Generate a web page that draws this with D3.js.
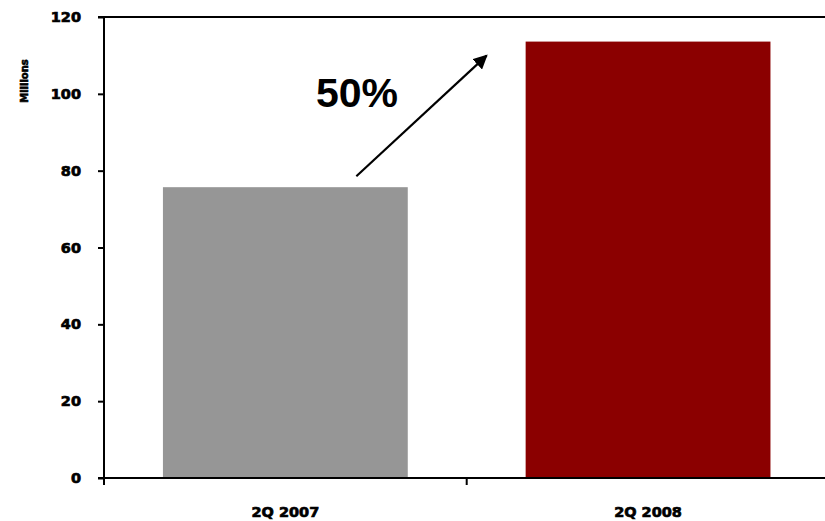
<!DOCTYPE html>
<html>
<head>
<meta charset="utf-8">
<script src="https://cdn.jsdelivr.net/npm/d3@7"></script>
<style>
  html, body { margin: 0; padding: 0; background: #fff; }
  svg { display: block; }
</style>
</head>
<body>
<svg id="chart" width="825" height="521"></svg>
<script>
// Quarterly totals, in millions
const categories = ["2Q 2007", "2Q 2008"];
const values = [75.7, 113.6];
const barColors = ["#969696", "#8b0000"];
const yTicks = [0, 20, 40, 60, 80, 100, 120];
const yAxisTitle = "Millions";

(function () {
  const svg = d3.select("#chart");
  const plotLeft = 104, plotRight = 829.4, plotTop = 17, plotBottom = 478;

  const x = d3.scaleBand()
    .domain(categories)
    .range([plotLeft, plotRight])
    .paddingInner(0.325)
    .paddingOuter(0.1625);

  const y = d3.scaleLinear().domain([0, 120]).range([plotBottom, plotTop]);

  // Bars
  svg.selectAll("rect.bar")
    .data(values)
    .join("rect")
    .attr("class", "bar")
    .attr("x", (d, i) => x(categories[i]))
    .attr("y", d => y(d))
    .attr("width", x.bandwidth())
    .attr("height", d => y(0) - y(d))
    .attr("fill", (d, i) => barColors[i]);

  // Y axis with ticks and labels
  const yAxis = d3.axisLeft(y).tickValues(yTicks).tickSize(6).tickPadding(17);
  const gy = svg.append("g").attr("transform", `translate(${plotLeft},0)`).call(yAxis);
  gy.select(".domain").remove();
  gy.selectAll(".tick line").attr("stroke", "#000").attr("stroke-width", 2);
  gy.selectAll(".tick text")
    .attr("font-family", "DejaVu Sans, sans-serif")
    .attr("font-weight", "bold")
    .attr("font-size", 14.5)
    .attr("fill", "#000")
    .attr("stroke", "#000")
    .attr("stroke-width", 0.7);

  // Vertical axis line (runs a little below zero like a tick)
  svg.append("line")
    .attr("x1", plotLeft).attr("x2", plotLeft)
    .attr("y1", y(120) - 1).attr("y2", y(0) + 7)
    .attr("stroke", "#000").attr("stroke-width", 2);

  // Top frame line
  svg.append("line")
    .attr("x1", plotLeft - 6).attr("x2", plotRight)
    .attr("y1", y(120)).attr("y2", y(120))
    .attr("stroke", "#000").attr("stroke-width", 2.2);

  // Baseline
  svg.append("line")
    .attr("x1", plotLeft - 6).attr("x2", plotRight)
    .attr("y1", y(0)).attr("y2", y(0))
    .attr("stroke", "#000").attr("stroke-width", 2.2);

  // Category boundary ticks
  const step = x.step();
  const boundaries = categories.slice(1).map(c => x(c) - x.paddingInner() * step / 2);
  svg.selectAll("line.xtick")
    .data(boundaries)
    .join("line")
    .attr("class", "xtick")
    .attr("x1", d => d).attr("x2", d => d)
    .attr("y1", y(0)).attr("y2", y(0) + 7)
    .attr("stroke", "#000").attr("stroke-width", 2);

  // Category labels
  svg.selectAll("text.xlabel")
    .data(categories)
    .join("text")
    .attr("class", "xlabel")
    .attr("x", d => x(d) + x.bandwidth() / 2)
    .attr("y", 517)
    .attr("text-anchor", "middle")
    .attr("font-family", "DejaVu Sans, sans-serif")
    .attr("font-weight", "bold")
    .attr("font-size", 14.5)
    .attr("fill", "#000")
    .attr("stroke", "#000")
    .attr("stroke-width", 0.7)
    .text(d => d);

  // Y axis title
  svg.append("text")
    .attr("transform", "translate(28,81) rotate(-90)")
    .attr("text-anchor", "middle")
    .attr("font-family", "DejaVu Sans, sans-serif")
    .attr("font-weight", "bold")
    .attr("font-size", 10)
    .attr("fill", "#000")
    .attr("stroke", "#000")
    .attr("stroke-width", 0.6)
    .text(yAxisTitle);

  // Growth arrow between the two bars
  const defs = svg.append("defs");
  defs.append("marker")
    .attr("id", "head")
    .attr("viewBox", "0 0 10 10")
    .attr("refX", 9).attr("refY", 5)
    .attr("markerWidth", 6.5).attr("markerHeight", 6.5)
    .attr("markerUnits", "strokeWidth")
    .attr("orient", "auto")
    .append("path")
    .attr("d", "M0,0 L10,5 L0,10 Z")
    .attr("fill", "#000");

  const ax0 = x(categories[0]) + x.bandwidth() * 0.79;
  const ay0 = y(values[0]) - 11;
  const ax1 = x(categories[1]) - 39;
  const ay1 = y(values[1]) + 14;
  svg.append("line")
    .attr("x1", ax0).attr("y1", ay0)
    .attr("x2", ax1).attr("y2", ay1)
    .attr("stroke", "#000").attr("stroke-width", 2.2)
    .attr("marker-end", "url(#head)");

  const growth = Math.round((values[1] / values[0] - 1) * 100);
  svg.append("text")
    .attr("x", 357)
    .attr("y", 107)
    .attr("text-anchor", "middle")
    .attr("font-family", "Liberation Sans, Arial, sans-serif")
    .attr("font-weight", "bold")
    .attr("font-size", 41)
    .attr("fill", "#000")
    .text(growth + "%");
})();
</script>
</body>
</html>
